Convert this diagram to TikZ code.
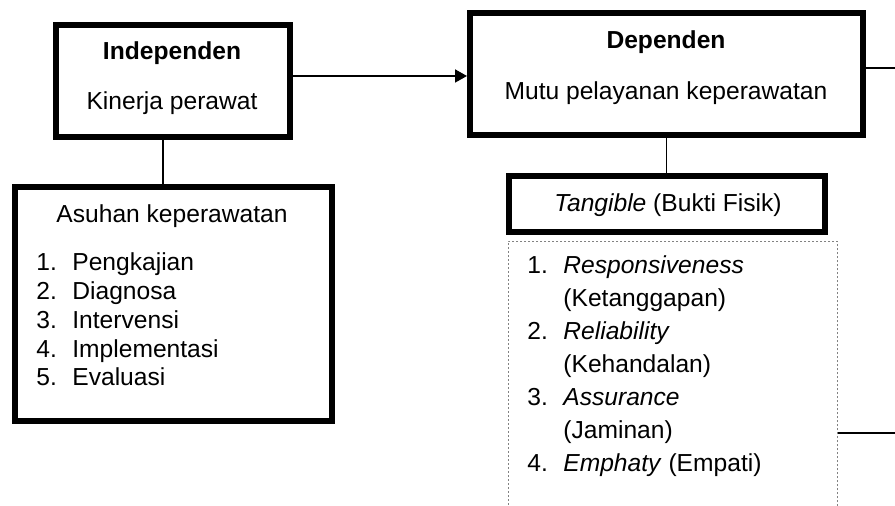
\documentclass[tikz,border=0pt]{standalone}
\usepackage{fontspec}
\setmainfont{Liberation Sans}
\usetikzlibrary{arrows.meta,positioning}

\begin{document}
\begin{tikzpicture}[x=0.5pt, y=-0.5pt, >={Triangle[length=6pt,width=6.5pt]},
		line join=miter]
		
		% Colors
		\definecolor{DotGray}{RGB}{130,130,130}
		
		% Styles
		\tikzset{
			box/.style={draw=black, line width=3pt, fill=white, inner sep=0pt},
			dotbox/.style={draw=DotGray, line width=0.5pt, dash pattern=on 1pt off 1pt},
			lnk/.style={line width=0.9pt},
			arrLnk/.style={lnk, ->},
			txt/.style={font=\fontsize{12.3pt}{14.4pt}\selectfont, inner sep=0pt},
			lstA/.style={txt, align=left},
			lstB/.style={txt, align=left, font=\fontsize{12.3pt}{16.5pt}\selectfont}
		}
		\newcommand{\nr}[1]{\makebox[18pt][l]{#1}}
		
		\useasboundingbox (0,0) rectangle (895,506);
		
		% Boxes
		\node[box, minimum width=117pt, minimum height=56pt] (ind) at (173,81) {};
		\node[box, minimum width=196.5pt, minimum height=61pt] (dep) at (666.5,74) {};
		\node[box, minimum width=158.5pt, minimum height=117pt] (asuh) at (173.5,304) {};
		\node[box, minimum width=158pt, minimum height=28pt] (tang) at (667,204) {};
		\node[dotbox, minimum width=164.5pt, minimum height=140pt, anchor=north] (dim) at (672.5,241) {};
		
		% Texts
		\node[txt, anchor=base] (indTitle) at (172,59.5) {\textbf{Independen}};
		\node[txt, anchor=base] (indText) at (172,110) {Kinerja perawat};
		\node[txt, anchor=base] (depTitle) at (666,49) {\textbf{Dependen}};
		\node[txt, anchor=base] (depText) at (666,99.3) {Mutu pelayanan keperawatan};
		\node[txt, anchor=base] (tangText) at (668,211.7) {\textit{Tangible} (Bukti Fisik)};
		\node[txt, anchor=base] (asuhTitle) at (172,222.3) {Asuhan keperawatan};
		
		% lists (base = last line)
		\node[lstA, anchor=base west] (asuhList) at (36,386)
		{\nr{1.}Pengkajian\\ \nr{2.}Diagnosa\\ \nr{3.}Intervensi\\
			\nr{4.}Implementasi\\ \nr{5.}Evaluasi};
		
		\node[lstB, anchor=base west] (dimList) at (527,472)
		{\nr{1.}\textit{Responsiveness}\\ \nr{}(Ketanggapan)\\
			\nr{2.}\textit{Reliability}\\ \nr{}(Kehandalan)\\
			\nr{3.}\textit{Assurance}\\ \nr{}(Jaminan)\\
			\nr{4.}\textit{Emphaty} (Empati)};
		
		% Connectors
		\coordinate (outTop) at (895,68);
		\coordinate (outBot) at (895,433);
		
		\draw[arrLnk] ([yshift=2.5pt]ind.east) -- ([yshift=2.5pt]ind.east -| dep.west);
		\draw[lnk] (dep.east |- outTop) -- (outTop);
		\draw[lnk] ([xshift=-5pt]ind.south) -- ([xshift=-5pt]ind.south |- asuh.north);
		\draw[lnk] (dep.south) -- (dep.south |- tang.north);
		\draw[lnk] (dim.east |- outBot) -- (outBot);
		
	\end{tikzpicture}
\end{document}
